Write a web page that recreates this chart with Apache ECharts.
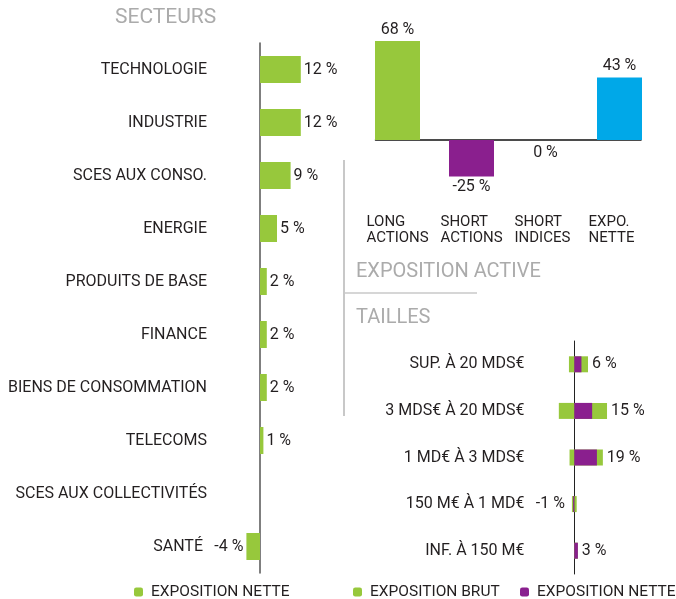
<!DOCTYPE html>
<html>
<head>
<meta charset="utf-8">
<style>html,body{margin:0;padding:0;background:#fff}#main{width:676px;height:599px}</style>
<script src="https://cdn.jsdelivr.net/npm/echarts@6/dist/echarts.min.js"></script>
</head>
<body>
<div id="main"></div>
<script>
var sectorNames = ['TECHNOLOGIE', 'INDUSTRIE', 'SCES AUX CONSO.', 'ENERGIE', 'PRODUITS DE BASE',
    'FINANCE', 'BIENS DE CONSOMMATION', 'TELECOMS', 'SCES AUX COLLECTIVITÉS', 'SANTÉ'];
var sectorValues = [12, 12, 9, 5, 2, 2, 2, 1, 0, -4];

var expoNames = ['LONG\nACTIONS', 'SHORT\nACTIONS', 'SHORT\nINDICES', 'EXPO.\nNETTE'];
var expoValues = [68, -25, 0, 43];

var sizeNames = ['SUP. À 20 MDS€', '3 MDS€ À 20 MDS€', '1 MD€ À 3 MDS€', '150 M€ À 1 MD€', 'INF. À 150 M€'];
var sizeBrutLong = [11.5, 27.5, 24, 2, 3];
var sizeBrutShort = [-4.5, -13, -4, -2, 0];
var sizeNette = [6, 15, 19, -1, 3];

var green = '#97C83C';
var purple = '#8A1F8E';
var blue = '#00A8E8';
var expoColors = [green, purple, purple, blue];
var textColor = '#231F20';
var titleColor = '#ABABAB';
var font = 'Roboto';

var legendText = { color: textColor, fontFamily: font, fontSize: 15.5, padding: [0, 0, 0, 3] };
var titleStyle = { color: titleColor, fontFamily: font, fontSize: 20, fontWeight: 'normal' };

var sectorData = sectorValues.map(function (v, i) {
    return {
        value: v,
        label: { show: v !== 0, position: v < 0 ? 'left' : 'right' }
    };
});

var expoData = expoValues.map(function (v, i) {
    return {
        value: v,
        itemStyle: { color: expoColors[i] },
        label: { position: v > 0 ? 'top' : 'bottom', distance: v === 0 ? 5 : 3 }
    };
});

// label de l'expo nette posé au bout de la barre brute
var longData = sizeBrutLong.map(function (v, i) {
    return { value: v, label: { show: sizeNette[i] >= 0 } };
});
var shortData = sizeBrutShort.map(function (v, i) {
    return { value: v, label: { show: sizeNette[i] < 0 } };
});

function legendAt(name, x) {
    return {
        data: [name], left: x, top: 584, padding: 0, itemWidth: 9, itemHeight: 9,
        textStyle: legendText
    };
}

var option = {
    animation: false,
    title: [
        { text: 'SECTEURS', left: 115, top: 7, padding: 0, textStyle: Object.assign({}, titleStyle, { fontSize: 21 }) },
        { text: 'EXPOSITION ACTIVE', left: 356, top: 262, padding: 0, textStyle: titleStyle },
        { text: 'TAILLES', left: 356, top: 308, padding: 0, textStyle: titleStyle }
    ],
    graphic: [
        { type: 'line', shape: { x1: 344, y1: 160, x2: 344, y2: 416 }, style: { stroke: '#C8C8C8', lineWidth: 2 } },
        { type: 'line', shape: { x1: 344, y1: 293, x2: 477, y2: 293 }, style: { stroke: '#C8C8C8', lineWidth: 1.5 } }
    ],
    legend: [
        Object.assign(legendAt('secteurs', 134), { formatter: function () { return 'EXPOSITION NETTE'; } }),
        legendAt('EXPOSITION BRUT', 353),
        legendAt('EXPOSITION NETTE', 520)
    ],
    grid: [
        { left: 226, top: 43, width: 102, height: 530, outerBoundsMode: 'none' },
        { left: 360.5, top: 38.1, width: 296, height: 145.6, outerBoundsMode: 'none' },
        { left: 375.5, top: 38.1, width: 265.5, height: 145.6, outerBoundsMode: 'none' },
        { left: 550.5, top: 341, width: 71.4, height: 233, outerBoundsMode: 'none' }
    ],
    xAxis: [
        { gridIndex: 0, type: 'value', min: -10, max: 20, show: false },
        {
            gridIndex: 1, type: 'category', data: expoNames,
            axisLine: { show: false, onZero: false }, axisTick: { show: false },
            axisLabel: {
                margin: 31, interval: 0,
                formatter: function (v) {
                    return v.split('\n').map(function (s) { return '{a|' + s + '}'; }).join('\n');
                },
                rich: { a: { width: 62, align: 'left', color: textColor, fontFamily: font, fontSize: 15, lineHeight: 16 } }
            }
        },
        {
            gridIndex: 2, type: 'category', data: expoNames,
            axisLine: { show: true, lineStyle: { color: '#111', width: 1.5 } },
            axisTick: { show: false }, axisLabel: { show: false }
        },
        { gridIndex: 3, type: 'value', min: -20, max: 40, show: false }
    ],
    yAxis: [
        {
            gridIndex: 0, type: 'category', data: sectorNames, inverse: true,
            axisLine: { show: true, onZero: true, lineStyle: { color: '#555', width: 1.5 } },
            axisTick: { show: false },
            axisLabel: {
                margin: 19, interval: 0, color: textColor, fontFamily: font, fontSize: 16,
                formatter: function (v) { return v === 'SANTÉ' ? '{s|' + v + '}' : v; },
                rich: { s: { padding: [0, 4, 0, 0], color: textColor, fontFamily: font, fontSize: 16 } }
            }
        },
        { gridIndex: 1, type: 'value', min: -30, max: 70, show: false },
        { gridIndex: 2, type: 'value', min: -30, max: 70, show: false },
        {
            gridIndex: 3, type: 'category', data: sizeNames, inverse: true,
            axisLine: { show: true, onZero: true, lineStyle: { color: '#222', width: 1 } },
            axisTick: { show: false },
            axisLabel: { margin: 26, interval: 0, color: textColor, fontFamily: font, fontSize: 16 }
        }
    ],
    series: [
        {
            name: 'secteurs', type: 'bar', xAxisIndex: 0, yAxisIndex: 0,
            data: sectorData, barWidth: 27, itemStyle: { color: green },
            label: { distance: 3, color: textColor, fontFamily: font, fontSize: 16, formatter: '{c} %' }
        },
        {
            name: 'expo', type: 'bar', xAxisIndex: 1, yAxisIndex: 1,
            data: expoData, barWidth: 45,
            label: { show: true, color: textColor, fontFamily: font, fontSize: 16, formatter: '{c} %' }
        },
        {
            name: 'EXPOSITION BRUT', type: 'bar', xAxisIndex: 3, yAxisIndex: 3,
            data: shortData, barWidth: 16, barGap: '-100%', itemStyle: { color: green },
            label: {
                position: 'left', distance: 7, color: textColor, fontFamily: font, fontSize: 16,
                formatter: function (p) { return sizeNette[p.dataIndex] + ' %'; }
            }
        },
        {
            name: 'EXPOSITION BRUT', type: 'bar', xAxisIndex: 3, yAxisIndex: 3,
            data: longData, barWidth: 16, barGap: '-100%', itemStyle: { color: green },
            label: {
                position: 'right', distance: 4, color: textColor, fontFamily: font, fontSize: 16,
                formatter: function (p) { return sizeNette[p.dataIndex] + ' %'; }
            }
        },
        {
            name: 'EXPOSITION NETTE', type: 'bar', xAxisIndex: 3, yAxisIndex: 3,
            data: sizeNette, barWidth: 16, barGap: '-100%', itemStyle: { color: purple }
        }
    ]
};

var chart = echarts.init(document.getElementById('main'));
chart.setOption(option);
</script>
</body>
</html>
